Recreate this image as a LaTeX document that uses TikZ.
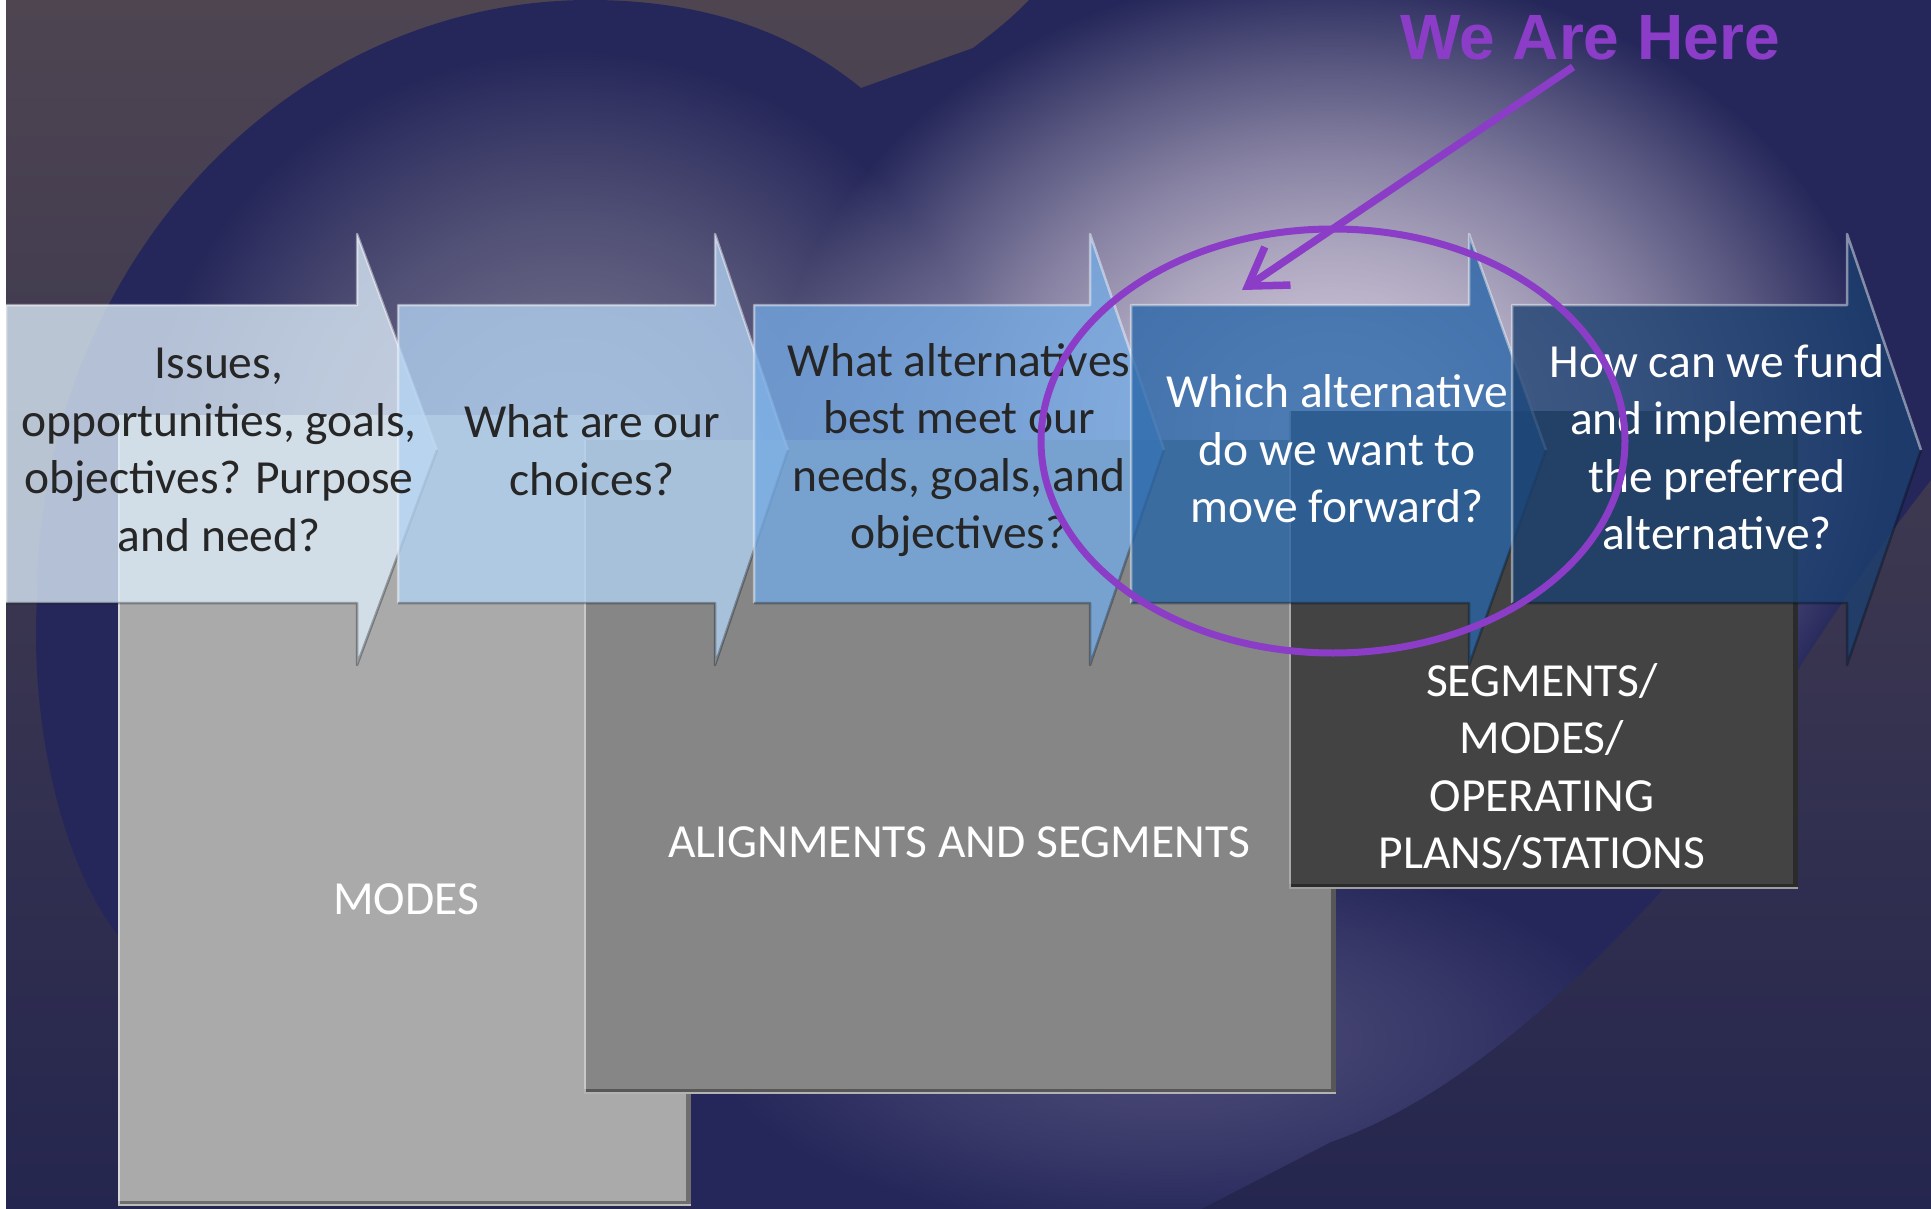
\documentclass[tikz,border=0pt]{standalone}
\usepackage{fontspec}
\setmainfont{Carlito}
\newfontfamily\arialfont{Liberation Sans}
\usetikzlibrary{arrows.meta,fadings}

\definecolor{navy}{HTML}{25275A}
\definecolor{bgtop}{HTML}{4E4551}
\definecolor{bgmid}{HTML}{3C3553}
\definecolor{bgbot}{HTML}{25264F}
\definecolor{glowR}{HTML}{D9CFE0}
\definecolor{glowL}{HTML}{76738D}
\definecolor{glowB}{HTML}{4A4976}
\definecolor{chA}{HTML}{DCECF9}
\definecolor{chB}{HTML}{B2D2F2}
\definecolor{chC}{HTML}{74AAE4}
\definecolor{chD}{HTML}{2765A8}
\definecolor{chE}{HTML}{1B4070}
\definecolor{txtdark}{HTML}{262626}
\definecolor{wah}{HTML}{8B3DC7}
\definecolor{grayA}{HTML}{AAAAAA}
\definecolor{grayB}{HTML}{868686}
\definecolor{grayC}{HTML}{434343}

\pgfdeclareradialshading{glowshade}{\pgfpointorigin}{%
  color(0bp)=(pgftransparent!0); color(5bp)=(pgftransparent!9);
  color(10bp)=(pgftransparent!25); color(15bp)=(pgftransparent!46);
  color(20bp)=(pgftransparent!72); color(25bp)=(pgftransparent!100);
  color(50bp)=(pgftransparent!100)}
\pgfdeclarefading{glowfade}{\pgfuseshading{glowshade}}

\def\heartpath{(861,88) -- (973,48) .. controls (990,35) and (1010,20) .. (1029,0)
  .. controls (1150,-200) and (1300,-330) .. (1550,-330)
  .. controls (1900,-330) and (2100,-50) .. (2060,250)
  .. controls (2035,350) and (1985,420) .. (1931,480)
  .. controls (1880,545) and (1840,605) .. (1802,663)
  .. controls (1760,735) and (1720,815) .. (1659,894)
  .. controls (1560,1000) and (1450,1100) .. (1331,1142)
  .. controls (1200,1210) and (1080,1270) .. (1000,1320)
  .. controls (700,1200) and (250,1080) .. (117,934)
  .. controls (60,860) and (30,720) .. (37,600)
  .. controls (37,269) and (285,0) .. (590,0)
  .. controls (700,0) and (790,30) .. (861,88) -- cycle}

\newcommand\mychev[4]{%
  \fill[#4, opacity=0.78] (#1,305) -- (#2,305) -- (#2,234) -- (#3,450) -- (#2,665) -- (#2,603) -- (#1,603) -- cycle;
  \draw[white, opacity=0.45, line width=2.5, line join=round] (#1,603) -- (#1,305) -- (#2,305) -- (#2,234) -- (#3,450);
  \draw[black, opacity=0.3, line width=2.5, line join=round] (#3,450) -- (#2,665) -- (#2,603) -- (#1,603);
}
\newcommand\mygraybox[5]{%
  \fill[#5] (#1,#2) rectangle (#3,#4);
  \draw[black, opacity=.35, line width=5] (#3-2.5,#2) -- (#3-2.5,#4-2.5) -- (#1,#4-2.5);
  \draw[white, opacity=.55, line width=2] (#1+1,#2) -- (#1+1,#4-1) -- (#3,#4-1);
}

\begin{document}
\begin{tikzpicture}[x=1pt,y=-1pt,
  qtext/.style={align=center, inner sep=0pt, font=\fontsize{47.5}{57.5}\selectfont},
  darktext/.style={qtext, text=txtdark},
  lighttext/.style={qtext, text=white},
  pointer/.style={draw=wah, line width=7.5, -{Straight Barb[length=36pt,width=46pt]}}]
\useasboundingbox (0,0) rectangle (1931,1209);
\begin{scope}
\clip (0,0) rectangle (1931,1209);
% background
\shade[top color=bgtop, middle color=bgmid, bottom color=bgbot] (0,0) rectangle (1931,1209);
\fill[white] (0,0) rectangle (6,1209);
% heart with glows
\fill[navy] \heartpath;
\begin{scope}
\clip \heartpath;
\fill[glowL, path fading=glowfade] (570,470) ellipse [x radius=430, y radius=420];
\fill[glowB, path fading=glowfade] (1170,1040) ellipse [x radius=460, y radius=190];
\fill[glowR, path fading=glowfade] (1330,430) ellipse [x radius=560, y radius=460];
\end{scope}
% gray boxes
\mygraybox{118}{415}{691}{1206}{grayA}
\mygraybox{584}{440}{1336}{1094}{grayB}
\mygraybox{1289}{411}{1798}{889}{grayC}
\node[lighttext] (modes) at (406,899) {MODES};
\node[lighttext] (align) at (959,842) {ALIGNMENTS AND SEGMENTS};
\node[lighttext] (seg) at (1542,767) {SEGMENTS/\\MODES/\\OPERATING\\PLANS/STATIONS};
% chevrons
\mychev{6}{357}{437}{chA}
\mychev{398}{715}{788}{chB}
\mychev{754}{1090}{1164}{chC}
\mychev{1131}{1469}{1546}{chD}
\mychev{1512}{1847}{1921}{chE}
\node[darktext] (q1) at (219,450) {Issues,\\opportunities, goals,\\objectives? Purpose\\and need?};
\node[darktext] (q2) at (592,450) {What are our\\choices?};
\node[darktext] (q3) at (959,450) {What alternatives\\best meet our\\needs, goals, and\\objectives?};
\node[lighttext] (q4) at (1337,449) {Which alternative\\do we want to\\move forward?};
\node[lighttext] (q5) at (1717,447) {How can we fund\\and implement\\the preferred\\alternative?};
% annotation
\coordinate (focusc) at (1333,441);
\draw[wah, line width=7] (focusc) ellipse [x radius=292, y radius=212];
\node[anchor=base, inner sep=0pt, text=wah, font=\arialfont\bfseries\fontsize{64}{70}\selectfont] (label) at (1590,60) {We Are Here};
\coordinate (arrowStart) at (1573,67);
\coordinate (arrowTip) at (1242,290);
\draw[pointer] (arrowStart) -- (arrowTip);
\end{scope}
\end{tikzpicture}
\end{document}
